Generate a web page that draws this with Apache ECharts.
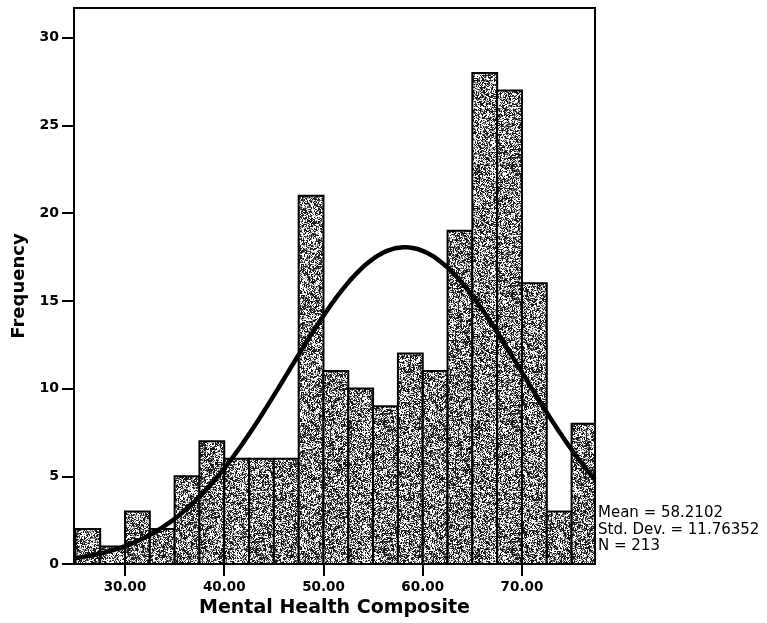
<!DOCTYPE html>
<html>
<head>
<meta charset="utf-8">
<script src="https://cdn.jsdelivr.net/npm/echarts@6/dist/echarts.min.js"></script>
<style>html,body{margin:0;padding:0;background:#fff;}#c{width:767px;height:623px;}</style>
</head>
<body>
<div id="c"></div>
<script>
// Histogram bins (lower edge, width 2.5) and frequencies
const binStarts = [25, 27.5, 30, 32.5, 35, 37.5, 40, 42.5, 45, 47.5, 50, 52.5, 55, 57.5, 60, 62.5, 65, 67.5, 70, 72.5, 75];
const binWidth = 2.5;
const frequencies = [2, 1, 3, 2, 5, 7, 6, 6, 6, 21, 11, 10, 9, 12, 11, 19, 28, 27, 16, 3, 8];
const xTicks = [30, 40, 50, 60, 70];
const yTicks = [0, 5, 10, 15, 20, 25, 30];
// Summary statistics shown on the chart (define the fitted normal curve)
const statMean = 58.2102;
const statSD = 11.76352;
const statN = 213;
const statLines = ['Mean = 58.2102', 'Std. Dev. = 11.76352', 'N = 213'];

const xMin = 24.86, xMax = 77.36, yMax = 31.7;

// Normal curve scaled to counts: N * binWidth * pdf(x)
const curve = [];
for (let i = 0; i <= 210; i++) {
  const x = xMin + (xMax - xMin) * i / 210;
  const z = (x - statMean) / statSD;
  curve.push([x, statN * binWidth * Math.exp(-0.5 * z * z) / (statSD * Math.sqrt(2 * Math.PI))]);
}

// stipple texture (deterministic hash)
function hash(x, y, seed) {
  let h = (x * 374761393 + y * 668265263 + seed * 1442695041) | 0;
  h = Math.imul(h ^ (h >>> 13), 1274126177);
  h = (h ^ (h >>> 16)) >>> 0;
  return (h % 1000) / 1000;
}
function makePattern() {
  const s = 128;
  const cv = document.createElement('canvas');
  cv.width = s; cv.height = s;
  const ctx = cv.getContext('2d');
  const img = ctx.createImageData(s, s);
  for (let y = 0; y < s; y++) {
    for (let x = 0; x < s; x++) {
      const coarse = hash(Math.floor(x / 3), Math.floor(y / 3), 7);
      const r = hash(x, y, 1) * 0.75 + coarse * 0.25;
      let v = 255;
      if (r < 0.415) v = 25; else if (r < 0.5) v = 95; else if (r < 0.6) v = 170;
      const k = (y * s + x) * 4;
      img.data[k] = v; img.data[k + 1] = v; img.data[k + 2] = v; img.data[k + 3] = 255;
    }
  }
  ctx.putImageData(img, 0, 0);
  return cv;
}
const pattern = { image: makePattern(), repeat: 'repeat' };

const histData = binStarts.map((s, i) => [s, s + binWidth, frequencies[i]]);

const chart = echarts.init(document.getElementById('c'), null, { renderer: 'canvas' });
const FONT = '"DejaVu Sans", Verdana, sans-serif';
chart.setOption({
  animation: false,
  backgroundColor: '#fff',
  grid: { left: 74, right: 172, top: 8, bottom: 59, show: true, borderColor: '#000', borderWidth: 2, backgroundColor: 'transparent' },
  xAxis: {
    type: 'value', min: xMin, max: xMax,
    name: 'Mental Health Composite', nameLocation: 'middle', nameGap: 35,
    nameTextStyle: { fontFamily: FONT, fontWeight: 'bold', fontSize: 19, color: '#000' },
    axisLine: { show: true, lineStyle: { color: '#000', width: 2 } },
    axisTick: { show: true, length: 12, lineStyle: { color: '#000', width: 2 }, customValues: xTicks },
    axisLabel: { fontFamily: FONT, fontWeight: 'bold', fontSize: 13.5, color: '#000', margin: 16, customValues: xTicks, formatter: v => v.toFixed(2) },
    splitLine: { show: false }
  },
  yAxis: {
    type: 'value', min: 0, max: yMax,
    name: 'Frequency', nameLocation: 'middle', nameGap: 43,
    nameTextStyle: { fontFamily: FONT, fontWeight: 'bold', fontSize: 18, color: '#000' },
    axisLine: { show: true, lineStyle: { color: '#000', width: 2 } },
    axisTick: { show: true, length: 12, lineStyle: { color: '#000', width: 2 }, customValues: yTicks },
    axisLabel: { fontFamily: FONT, fontWeight: 'bold', fontSize: 14, color: '#000', margin: 15, customValues: yTicks },
    splitLine: { show: false }
  },
  series: [
    {
      type: 'custom',
      clip: true,
      data: histData,
      renderItem: function (params, api) {
        const p0 = api.coord([api.value(0), 0]);
        const p1 = api.coord([api.value(1), api.value(2)]);
        const rect = echarts.graphic.clipRectByRect(
          { x: p0[0], y: p1[1], width: p1[0] - p0[0], height: p0[1] - p1[1] },
          { x: params.coordSys.x, y: params.coordSys.y, width: params.coordSys.width, height: params.coordSys.height }
        );
        return rect && {
          type: 'rect',
          shape: rect,
          style: { fill: pattern, stroke: '#000', lineWidth: 2 }
        };
      },
      encode: { x: [0, 1], y: 2 },
      z: 2
    },
    {
      type: 'line',
      data: curve,
      showSymbol: false,
      symbol: 'none',
      smooth: true,
      lineStyle: { color: '#000', width: 4.5 },
      z: 3
    }
  ],
  graphic: statLines.map((t, i) => ({
    type: 'text',
    left: 598,
    top: 506 + i * 16.5,
    style: { text: t, fontFamily: FONT, fontSize: 15, fill: '#000' }
  }))
});
</script>
</body>
</html>
